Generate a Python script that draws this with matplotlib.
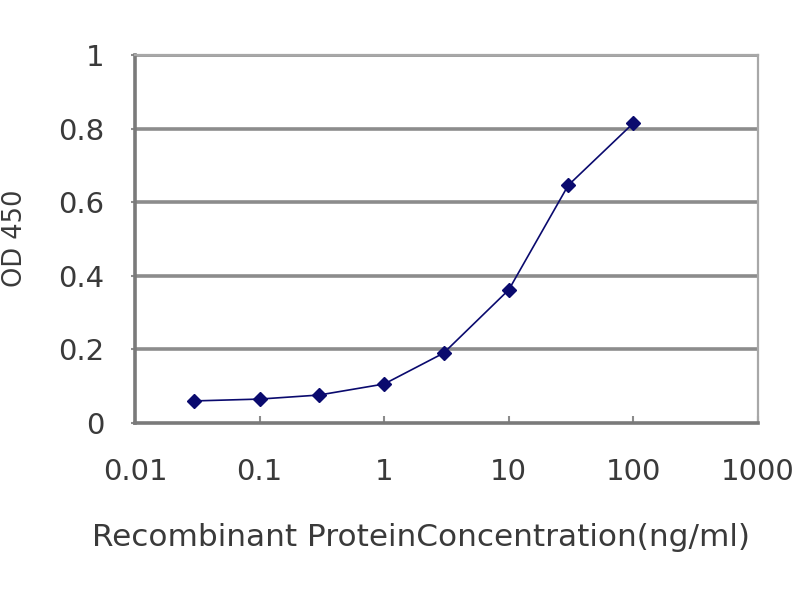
import matplotlib
matplotlib.use("Agg")
import matplotlib.pyplot as plt
from matplotlib.ticker import FixedLocator, FixedFormatter

# ---- data ----
conc = [0.03, 0.1, 0.3, 1, 3, 10, 30, 100]          # ng/ml
od450 = [0.060, 0.065, 0.076, 0.106, 0.190, 0.362, 0.646, 0.815]
xticks = [0.01, 0.1, 1, 10, 100, 1000]
xtick_labels = ["0.01", "0.1", "1", "10", "100", "1000"]
yticks = [0, 0.2, 0.4, 0.6, 0.8, 1]
ytick_labels = ["0", "0.2", "0.4", "0.6", "0.8", "1"]
xlabel = "Recombinant ProteinConcentration(ng/ml)"
ylabel = "OD 450"

NAVY = "#0A0A6E"
GRID = "#8C8C8C"
TEXT = "#3A3A3A"

plt.rcParams["font.family"] = ["DejaVu Sans"]

W, H = 800, 600
fig = plt.figure(figsize=(8, 6), dpi=100)
ax = fig.add_axes([135 / W, 1 - 423 / H, (758 - 135) / W, (423 - 55) / H])

ax.set_xscale("log")
ax.set_xlim(0.01, 1000)
ax.set_ylim(0, 1)

# horizontal gridlines
for yv in yticks[1:]:
    ax.axhline(yv, color=GRID, lw=2.6, zorder=1)

ax.plot(conc, od450, color=NAVY, lw=1.2, marker="D", ms=7,
        markerfacecolor=NAVY, markeredgecolor=NAVY, zorder=3)

ax.xaxis.set_major_locator(FixedLocator(xticks))
ax.xaxis.set_major_formatter(FixedFormatter(xtick_labels))
ax.xaxis.set_minor_locator(FixedLocator([]))
ax.yaxis.set_major_locator(FixedLocator(yticks))
ax.yaxis.set_major_formatter(FixedFormatter(ytick_labels))

ax.tick_params(axis="x", direction="in", length=5, width=1.5, color=GRID,
               labelsize=21, labelcolor=TEXT, pad=25)
ax.tick_params(axis="y", direction="out", length=3, width=1.5, color=GRID,
               labelsize=21, labelcolor=TEXT, pad=19)

for s in ("left", "bottom"):
    ax.spines[s].set_color("#7A7A7A")
    ax.spines[s].set_linewidth(2.6)
for s in ("top", "right"):
    ax.spines[s].set_color("#A8A8A8")
    ax.spines[s].set_linewidth(1.6)

# axis titles placed where the reference has them; x title sized to span ~658 px
xl = fig.text(421 / W, 1 - 537 / H, xlabel, ha="center", va="center",
              fontsize=20, color=TEXT)
fig.canvas.draw()
wpx = xl.get_window_extent().width
xl.set_fontsize(20 * 658 / wpx)
fig.text(15 / W, 1 - 238 / H, ylabel, ha="center", va="center", rotation=90,
         fontsize=18.5, color=TEXT)

fig.savefig("out.png", dpi=100)
